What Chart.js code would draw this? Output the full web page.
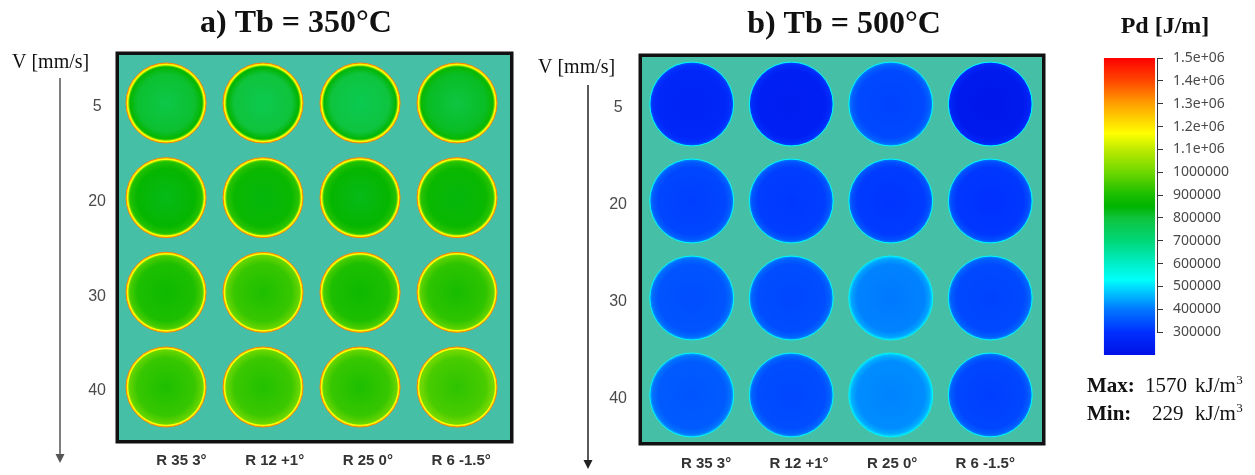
<!DOCTYPE html>
<html>
<head>
<meta charset="utf-8">
<script src="https://cdn.jsdelivr.net/npm/chart.js@4.4.1/dist/chart.umd.min.js"></script>
<style>
  body { margin: 0; background: #fff; }
  #wrap { position: relative; width: 1255px; height: 475px; }
  canvas { position: absolute; top: 0; }
</style>
</head>
<body>
<div id="wrap">
  <canvas id="pd350" width="530" height="475" style="left:0"></canvas>
  <canvas id="pd500" width="530" height="475" style="left:530px"></canvas>
  <canvas id="pdScale" width="195" height="475" style="left:1060px"></canvas>
</div>
<script>
// =====================================================
// DATA
// =====================================================
const speeds = ['5', '20', '30', '40'];                        // V [mm/s]
const profiles = ['R 35 3°', 'R 12 +1°', 'R 25 0°', 'R 6 -1.5°'];

// Pd [J/m] per track, one array per speed, columns follow `profiles`
const pd350V5  = [780000, 770000, 765000, 790000];
const pd350V20 = [830000, 840000, 830000, 840000];
const pd350V30 = [875000, 905000, 875000, 895000];
const pd350V40 = [905000, 910000, 905000, 925000];

const pd500V5  = [270000, 250000, 335000, 230000];
const pd500V20 = [330000, 320000, 315000, 310000];
const pd500V30 = [350000, 340000, 410000, 335000];
const pd500V40 = [360000, 340000, 420000, 330000];

const pdTicks = [300000, 400000, 500000, 600000, 700000, 800000, 900000,
    1000000, 1100000, 1200000, 1300000, 1400000, 1500000];
const pdMin = 200000;
const pdMax = 1500000;

const maxKJ = 1570;   // kJ/m3
const minKJ = 229;

// =====================================================
// COLOUR MAP (same as the legend bar)
// =====================================================
const pdStops = [
    [200000, [0, 16, 230]],
    [300000, [0, 48, 255]],
    [400000, [0, 120, 255]],
    [500000, [0, 225, 255]],
    [530000, [0, 255, 250]],
    [600000, [0, 238, 200]],
    [700000, [0, 215, 120]],
    [800000, [15, 195, 60]],
    [850000, [0, 180, 0]],
    [900000, [25, 190, 0]],
    [1000000, [110, 215, 0]],
    [1100000, [190, 235, 0]],
    [1170000, [255, 255, 0]],
    [1300000, [255, 160, 0]],
    [1400000, [255, 70, 0]],
    [1500000, [255, 0, 0]]
];

function pdColor(v) {
    const lo = pdStops[0], hi = pdStops[pdStops.length - 1];
    if (v <= lo[0]) return 'rgb(' + lo[1].join(',') + ')';
    if (v >= hi[0]) return 'rgb(' + hi[1].join(',') + ')';
    for (let i = 1; i < pdStops.length; i++) {
        const [v1, c1] = pdStops[i];
        if (v <= v1) {
            const [v0, c0] = pdStops[i - 1];
            const t = (v - v0) / (v1 - v0);
            return 'rgb(' + c0.map((a, k) => Math.round(a + (c1[k] - a) * t)).join(',') + ')';
        }
    }
}

function cells(rows, radius) {
    const out = [];
    rows.forEach((row, r) => row.forEach((v, c) => out.push({ x: c, y: r, r: radius, v: v })));
    return out;
}

// radial shading of one track, stops() gives [offset, Pd] pairs
function trackFill(stops) {
    return function (ctx) {
        const chart = ctx.chart;
        const p = ctx.raw;
        if (!p || !chart.chartArea) return 'transparent';
        const x = chart.scales.x.getPixelForValue(p.x);
        const y = chart.scales.y.getPixelForValue(p.y);
        const g = chart.ctx.createRadialGradient(x, y, 0, x, y, p.r);
        stops(p.v).forEach(s => g.addColorStop(s[0], pdColor(s[1])));
        return g;
    };
}

// =====================================================
// PANEL DECORATION (background, frame, title, V arrow)
// =====================================================
const panelDecor = {
    id: 'panelDecor',
    beforeDatasetsDraw(chart, args, o) {
        const { ctx, chartArea: a } = chart;
        ctx.save();
        ctx.fillStyle = o.background;
        ctx.fillRect(a.left, a.top, a.width, a.height);
        ctx.restore();
    },
    afterDraw(chart, args, o) {
        const { ctx, chartArea: a } = chart;
        ctx.save();
        ctx.strokeStyle = '#111';
        ctx.lineWidth = 3.5;
        ctx.strokeRect(a.left - 1.75, a.top - 1.75, a.width + 3.5, a.height + 3.5);

        ctx.fillStyle = '#111';
        ctx.textBaseline = 'alphabetic';
        ctx.textAlign = 'center';
        ctx.font = 'bold 32px "Liberation Serif"';
        ctx.fillText(o.title, o.titleX, o.titleY);

        ctx.textAlign = 'left';
        ctx.font = '20px "Liberation Serif"';
        ctx.fillText('V [mm/s]', o.nameX, o.nameY);

        ctx.strokeStyle = o.arrowColor;
        ctx.fillStyle = o.arrowColor;
        ctx.lineWidth = 1.5;
        ctx.beginPath();
        ctx.moveTo(o.arrowX, o.arrowTop);
        ctx.lineTo(o.arrowX, o.arrowBottom - 6);
        ctx.stroke();
        ctx.beginPath();
        ctx.moveTo(o.arrowX - 4.5, o.arrowBottom - 9);
        ctx.lineTo(o.arrowX + 4.5, o.arrowBottom - 9);
        ctx.lineTo(o.arrowX, o.arrowBottom);
        ctx.closePath();
        ctx.fill();
        ctx.restore();
    }
};

function panelChart(id, rows, o) {
    return new Chart(document.getElementById(id), {
        type: 'bubble',
        data: {
            datasets: [{
                data: cells(rows, o.radius),
                backgroundColor: trackFill(o.stops),
                borderColor: o.rim,
                borderWidth: 1
            }]
        },
        options: {
            responsive: false,
            animation: false,
            events: [],
            layout: {
                autoPadding: false,
                padding: { top: o.top, right: 530 - o.right, left: 0, bottom: 0 }
            },
            scales: {
                x: { type: 'linear', display: false, min: o.xMin, max: o.xMax },
                y: {
                    type: 'linear',
                    position: 'left',
                    reverse: true,
                    min: o.yMin,
                    max: o.yMax,
                    grid: { display: false, drawTicks: false },
                    border: { display: false },
                    afterFit: s => {
                        s.width = o.left;
                        s.paddingTop = 0;
                        s.paddingBottom = 0;
                    },
                    afterBuildTicks: s => { s.ticks = speeds.map((_, i) => ({ value: i })); },
                    ticks: {
                        callback: v => speeds[v],
                        crossAlign: 'center',
                        padding: o.yPad,
                        labelOffset: 4,
                        color: '#4a4a4a',
                        font: { family: 'Liberation Sans', size: 16 }
                    }
                },
                xl: {
                    type: 'linear',
                    position: 'bottom',
                    min: o.lMin,
                    max: o.lMax,
                    grid: { display: false, drawTicks: false },
                    border: { display: false },
                    afterFit: s => {
                        s.height = 475 - o.bottom;
                        s.paddingLeft = 0;
                        s.paddingRight = 0;
                    },
                    afterBuildTicks: s => { s.ticks = profiles.map((_, i) => ({ value: i })); },
                    ticks: {
                        callback: v => profiles[v],
                        autoSkip: false,
                        maxRotation: 0,
                        padding: o.lPad,
                        color: '#333',
                        font: { family: 'Liberation Sans', size: 15, weight: 'bold' }
                    }
                }
            },
            plugins: {
                legend: { display: false },
                tooltip: { enabled: false },
                panelDecor: o.decor
            }
        },
        plugins: [panelDecor]
    });
}

// =====================================================
// a) Tb = 350°C
// =====================================================
panelChart('pd350', [pd350V5, pd350V20, pd350V30, pd350V40], {
    left: 119, right: 510, top: 55, bottom: 440,
    xMin: -0.485, xMax: 3.546,
    yMin: -0.507, yMax: 3.56,
    lMin: -0.67, lMax: 3.525,
    yPad: 13, lPad: 12,
    radius: 40,
    rim: pdColor(1330000),
    stops: v => [[0, v], [0.72, v + 30000], [0.9, v + 80000], [0.93, 1000000], [0.955, 1170000], [1, 1210000]],
    decor: {
        background: '#45c0a6',
        title: 'a) Tb = 350°C', titleX: 296, titleY: 32,
        nameX: 12, nameY: 68,
        arrowX: 60, arrowTop: 78, arrowBottom: 463, arrowColor: '#555'
    }
});

// =====================================================
// b) Tb = 500°C
// =====================================================
panelChart('pd500', [pd500V5, pd500V20, pd500V30, pd500V40], {
    left: 112, right: 512, top: 57, bottom: 442,
    xMin: -0.50, xMax: 3.52,
    yMin: -0.485, yMax: 3.485,
    lMin: -0.688, lMax: 3.61,
    yPad: 15, lPad: 13,
    radius: 42,
    rim: pdColor(520000),
    stops: v => [[0, v - 10000], [0.8, v], [0.93, v + 30000], [0.975, v + 70000], [1, 470000]],
    decor: {
        background: '#45c0a6',
        title: 'b) Tb = 500°C', titleX: 314, titleY: 33,
        nameX: 8, nameY: 73,
        arrowX: 58, arrowTop: 85, arrowBottom: 469, arrowColor: '#222'
    }
});

// =====================================================
// LEGEND BAR Pd [J/m]
// =====================================================
const scaleDecor = {
    id: 'scaleDecor',
    afterDraw(chart) {
        const { ctx, chartArea: a } = chart;
        const y = chart.scales.y;
        ctx.save();
        ctx.strokeStyle = '#333';
        ctx.lineWidth = 1;
        ctx.beginPath();
        ctx.moveTo(a.right + 0.5, y.getPixelForValue(pdTicks[pdTicks.length - 1]));
        ctx.lineTo(a.right + 0.5, y.getPixelForValue(pdTicks[0]));
        ctx.stroke();

        ctx.fillStyle = '#111';
        ctx.textBaseline = 'alphabetic';
        ctx.textAlign = 'center';
        ctx.font = 'bold 24px "Liberation Serif"';
        ctx.fillText('Pd [J/m]', 105, 33);

        ctx.textAlign = 'left';
        const line = (name, value, nameX, valueX, base) => {
            ctx.font = 'bold 21px "Liberation Serif"';
            ctx.fillText(name, nameX, base);
            ctx.font = '21px "Liberation Serif"';
            ctx.fillText(String(value), valueX, base);
            ctx.fillText('kJ/m', 135, base);
            const w = ctx.measureText('kJ/m').width;
            ctx.font = '13px "Liberation Serif"';
            ctx.fillText('3', 135 + w + 0.5, base - 8);
        };
        line('Max:', maxKJ, 27, 85, 392);
        line('Min:', minKJ, 27, 92, 420);
        ctx.restore();
    }
};

new Chart(document.getElementById('pdScale'), {
    type: 'bar',
    data: {
        labels: ['Pd'],
        datasets: [{
            data: [[pdMin, pdMax]],
            backgroundColor: function (ctx) {
                const chart = ctx.chart;
                if (!chart.chartArea) return 'transparent';
                const y = chart.scales.y;
                const g = chart.ctx.createLinearGradient(0, y.getPixelForValue(pdMin), 0, y.getPixelForValue(pdMax));
                pdStops.forEach(s => g.addColorStop((s[0] - pdMin) / (pdMax - pdMin), pdColor(s[0])));
                return g;
            },
            borderWidth: 0,
            barPercentage: 0.93,
            categoryPercentage: 1
        }]
    },
    options: {
        responsive: false,
        animation: false,
        events: [],
        layout: {
            autoPadding: false,
            padding: { left: 42, top: 58, bottom: 120, right: 0 }
        },
        scales: {
            x: { display: false },
            y: {
                position: 'right',
                min: pdMin,
                max: pdMax,
                afterFit: s => {
                    s.width = 98;
                    s.paddingTop = 0;
                    s.paddingBottom = 0;
                },
                afterBuildTicks: s => { s.ticks = pdTicks.map(v => ({ value: v })); },
                grid: { drawOnChartArea: false, tickLength: 6, color: '#333' },
                border: { display: false },
                ticks: {
                    padding: 10,
                    color: '#4a4a4a',
                    font: { family: 'Noto Sans', size: 14 },
                    callback: v => v >= 1100000 ? (v / 1e6).toFixed(1) + 'e+06' : String(v)
                }
            }
        },
        plugins: {
            legend: { display: false },
            tooltip: { enabled: false }
        }
    },
    plugins: [scaleDecor]
});
</script>
</body>
</html>
